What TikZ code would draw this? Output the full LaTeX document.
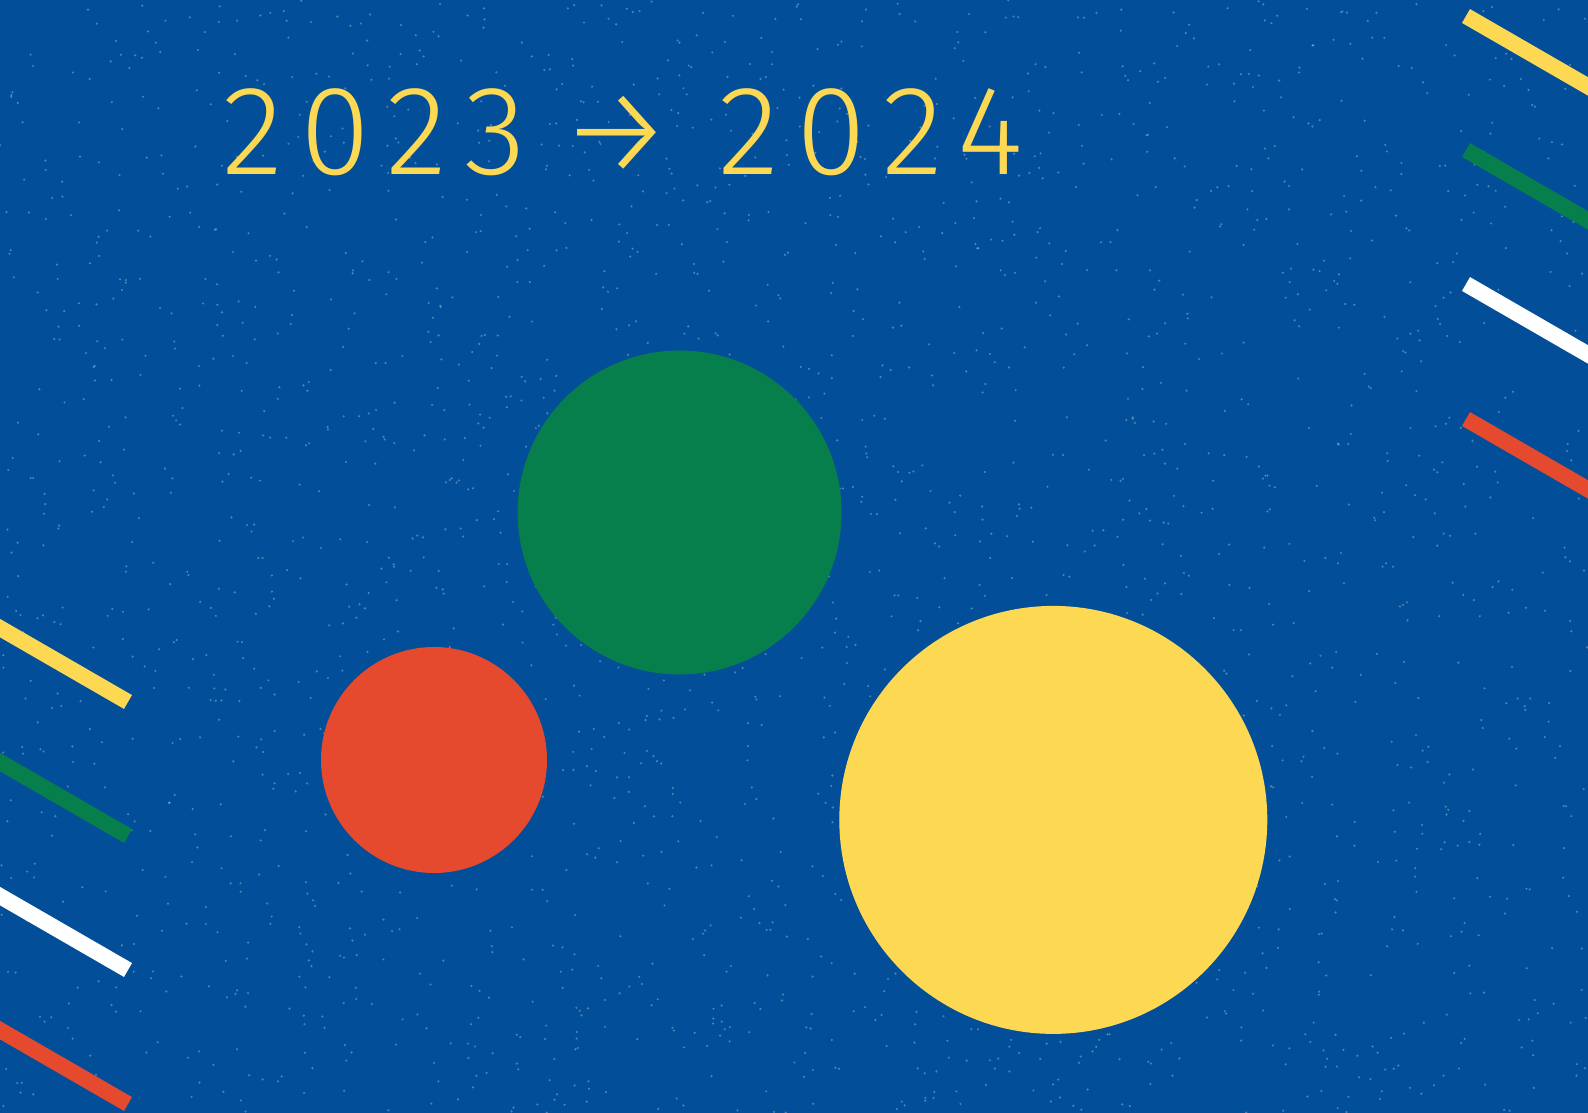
\documentclass[tikz,border=0pt]{standalone}
\usepackage{fontspec}
\usetikzlibrary{calc}
\newfontfamily\yrfont[LetterSpace=14]{Fira Sans Light}
\definecolor{bgblue}{RGB}{3,78,152}
\definecolor{cyellow}{RGB}{253,216,83}
\definecolor{cgreen}{RGB}{6,127,76}
\definecolor{cred}{RGB}{229,74,46}
\tikzset{
  stripe/.style={line width=16pt},
  disc/.style={circle, inner sep=0pt, draw=none},
}
\begin{document}
\begin{tikzpicture}[x=1pt,y=-1pt]
\useasboundingbox (0,0) rectangle (1588,1113);
\begin{scope}
\clip (0,0) rectangle (1588,1113);
\fill[bgblue] (0,0) rectangle (1588,1113);
% speckles
\pgfmathsetseed{7}
\foreach \i in {1,...,2400}{
  \pgfmathsetmacro{\px}{rnd*1588}
  \pgfmathsetmacro{\py}{rnd*1113}
  \fill[white, opacity=0.3] (\px,\py) circle (1.2pt);
}
% right stripes
\foreach \y/\c [count=\k] in {16/cyellow,150/cgreen,284/white,419/cred}{
  \coordinate (rs\k) at (1466,\y);
  \coordinate (re\k) at ($(rs\k)+(-30:300pt)$);
  \draw[stripe, \c] (rs\k) -- (re\k);
}
% left stripes
\foreach \y/\c [count=\k] in {702/cyellow,836/cgreen,970/white,1104/cred}{
  \coordinate (le\k) at (128,\y);
  \coordinate (ls\k) at ($(le\k)+(150:300pt)$);
  \draw[stripe, \c] (ls\k) -- (le\k);
}
\end{scope}
% circles
\node[disc, fill=cgreen, minimum size=324pt] (green) at (679.6,512.5) {};
\node[disc, fill=cred, minimum size=226pt] (red) at (434,760) {};
\node[disc, fill=cyellow, minimum size=428pt] (yellow) at (1053.3,819.9) {};
% title
\node[anchor=base west, inner sep=0pt, text=cyellow, font=\yrfont\fontsize{127}{130}\selectfont] (title) at (222,175) {2023 \hspace{-20pt}→ \hspace{-9pt}2024};
\end{tikzpicture}
\end{document}
